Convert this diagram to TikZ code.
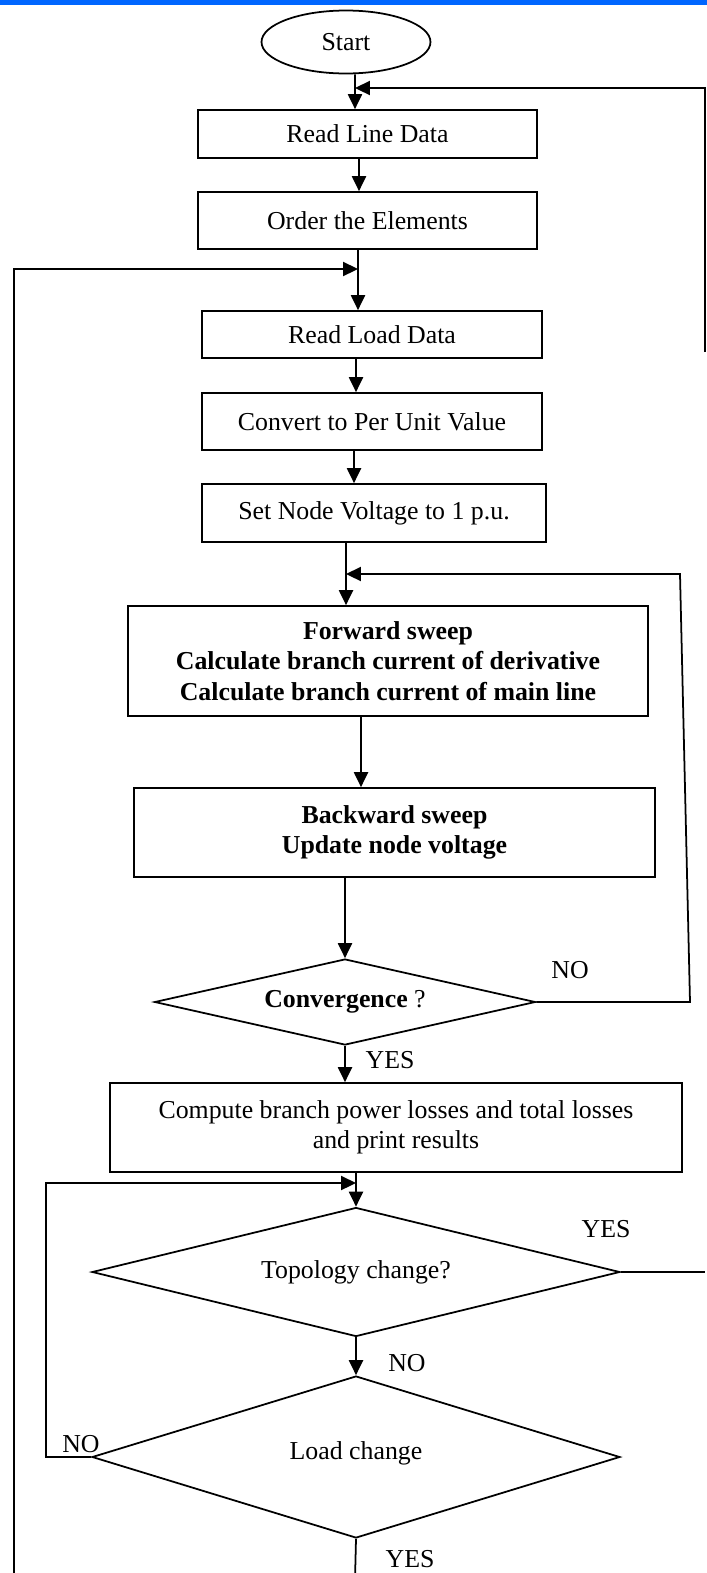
\documentclass[tikz,border=0pt]{standalone}
\usepackage{fontspec}
\setmainfont{Liberation Serif}
\usepackage{tikz}
\usetikzlibrary{arrows.meta, positioning, shapes.geometric}
\definecolor{barblue}{RGB}{0,102,255}

\begin{document}
\begin{tikzpicture}[x=0.02cm, y=-0.02cm, line width=1pt,
        font=\fontsize{14.7pt}{17.3pt}\selectfont,
        box/.style={rectangle, draw, inner sep=0pt, align=center},
        dec/.style={diamond, draw, inner sep=0pt, align=center},
        boldtxt/.style={font=\fontsize{14.7pt}{17.3pt}\selectfont\bfseries},
        arr/.style={-{Triangle[length=8.5pt, width=8pt]}}]
        \useasboundingbox (0,0) rectangle (707,1573);
        \clip (0,0) rectangle (707,1573);
        \fill[barblue] (0,0) rectangle (707,5);
        % main column
        \node[ellipse, draw, minimum width=3.38cm, minimum height=1.26cm] (S) at (346,42) {Start};
        \node[box, minimum width=6.78cm, minimum height=0.96cm] (RL) at (367.5,134) {Read Line Data};
        \node[box, minimum width=6.78cm, minimum height=1.14cm] (OE) at (367.5,220.5) {Order the Elements};
        \node[box, minimum width=6.80cm, minimum height=0.94cm] (RLD) at (372,334.5) {Read Load Data};
        \node[box, minimum width=6.80cm, minimum height=1.14cm] (PU) at (372,421.5) {Convert to Per Unit Value};
        \node[box, minimum width=6.88cm, minimum height=1.16cm] (SV) at (374,513) {Set Node Voltage to 1 p.u.};
        \node[box, boldtxt, minimum width=10.40cm, minimum height=2.20cm] (FS) at (388,661) {Forward sweep\\Calculate branch current of derivative\\Calculate branch current of main line};
        \node[box, boldtxt, minimum width=10.42cm, minimum height=1.78cm] (BS) at (394.5,832.5) {Backward sweep\\Update node voltage};
        \node[dec, minimum width=7.62cm, minimum height=1.72cm, aspect=4.4] (CV) at (345,1002) {{\bfseries Convergence} ?};
        \node[box, minimum width=11.44cm, minimum height=1.78cm] (CL) at (396,1127.5) {Compute branch power losses and total losses\\and print results};
        \node[dec, minimum width=10.56cm, minimum height=2.58cm, aspect=4.1] (TC) at (356,1272) {Topology change?};
        \node[dec, minimum width=10.56cm, minimum height=3.24cm, aspect=3.3] (LC) at (356,1457) {\raisebox{.26cm}{Load change}};
        % loop corners
        \coordinate (R1) at (705,88);
        \coordinate (R2) at (705,352);
        \coordinate (L1) at (14,269);
        \coordinate (L2) at (14,1580);
        \coordinate (N1) at (690,1002);
        \coordinate (N2) at (680,574);
        \coordinate (M1) at (46,1183);
        \coordinate (E) at (355,1580);
        % connectors
        \draw[arr] ([xshift=.18cm]S.south) -- ([xshift=-.25cm]RL.north);
        \draw[arr] (R2) -- (R1) -- ([xshift=.18cm]S.south |- R1);
        \draw[arr] ([xshift=-.17cm]RL.south) -- ([xshift=-.17cm]OE.north);
        \draw[arr] ([xshift=-.19cm]OE.south) -- ([xshift=-.28cm]RLD.north);
        \draw[arr] (L2) -- (L1) -- ([xshift=-.19cm]OE.south |- L1);
        \draw[arr] ([xshift=-.32cm]RLD.south) -- ([xshift=-.32cm]PU.north);
        \draw[arr] ([xshift=-.36cm]PU.south) -- ([xshift=-.40cm]SV.north);
        \draw[arr] ([xshift=-.56cm]SV.south) -- ([xshift=-.84cm]FS.north);
        \draw[arr] (CV.east) -- (N1) -- (N2) -- ([xshift=-.56cm]SV.south |- N2);
        \draw[arr] ([xshift=-.54cm]FS.south) -- ([xshift=-.67cm]BS.north);
        \draw[arr] (CV.north |- BS.south) -- (CV.north);
        \draw[arr] (CV.south) -- (CV.south |- CL.north);
        \draw[arr] (TC.north |- CL.south) -- (TC.north);
        \draw[arr] (LC.west) -- (LC.west -| M1) -- (M1) -- (TC.north |- M1);
        \draw[arr] (TC.south) -- (LC.north);
        \draw (TC.east) -- (TC.east -| R1);
        \draw (LC.south) -- (E);
        % labels
        \node (NO1) at (570,970) {NO};
        \node (YES1) at (390,1060) {YES};
        \node (YES2) at (606,1229) {YES};
        \node (NO2) at (407,1363) {NO};
        \node (NO3) at (81,1444) {NO};
        \node (YES3) at (410,1559) {YES};
    \end{tikzpicture}
\end{document}
